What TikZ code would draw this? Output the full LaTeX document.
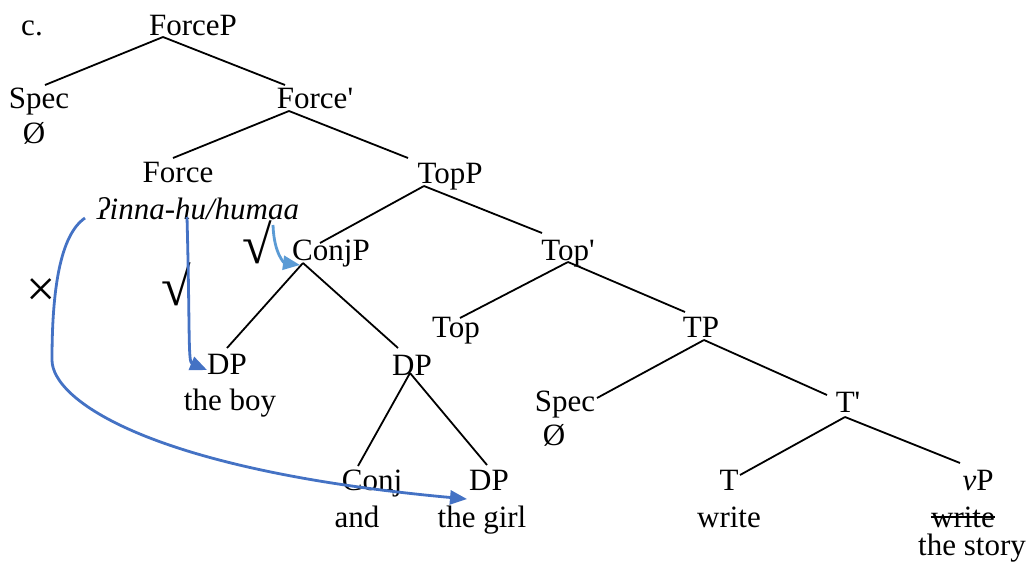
\documentclass[tikz,border=0pt]{standalone}
\usepackage{fontspec}
\setmainfont{Liberation Serif}
\usetikzlibrary{arrows.meta, calc}

\definecolor{movblue}{RGB}{68,114,196}
\definecolor{movlight}{RGB}{91,155,213}

\begin{document}
\begin{tikzpicture}[x=0.5pt, y=-0.5pt,
    every node/.style={anchor=base, inner sep=0pt, font=\fontsize{15.5}{18}\selectfont},
    branch/.style={line width=0.9pt},
    judge/.style={anchor=center, font=\fontsize{#1}{#1}\selectfont},
    move/.style={line width=1.4pt, movblue, -{Triangle[length=8.5pt, width=7pt]}}]
    \useasboundingbox (0,0) rectangle (1031,568);
    % Labels of the tree
    \node (c) at (32,35) {c.};
    \node (forcep) at (193,35) {ForceP};
    \node (spec1) at (39,108) {Spec};
    \node (empty1) at (34,143) {Ø};
    \node (forcebar) at (315,108) {Force\textquotesingle};
    \node (force) at (178,182) {Force};
    \node (comp) at (198,219) {\textit{ʔinna-hu/humaa}};
    \node (topp) at (450,183) {TopP};
    \node (conjp) at (331,260) {ConjP};
    \node (topbar) at (568,260) {Top\textquotesingle};
    \node (top) at (456,337) {Top};
    \node (tp) at (701,337) {TP};
    \node (dp1) at (227,374) {DP};
    \node (boy) at (230,410) {the boy};
    \node (dp2) at (412,375) {DP};
    \node (spec2) at (565,411) {Spec};
    \node (empty2) at (554,445) {Ø};
    \node (tbar) at (848,412) {T\textquotesingle};
    \node (conj) at (372,490) {Conj};
    \node (and) at (357,527) {and};
    \node (dp3) at (489,490) {DP};
    \node (girl) at (482,527) {the girl};
    \node (t) at (729,490) {T};
    \node (write) at (729,527) {write};
    \node (vp) at (978,490) {\textit{v}P};
    \node (copy) at (963,527) {write};
    \node (story) at (972,555) {the story};
    \draw[line width=0.9pt] ($(copy.base west)+(0,-10)$) -- ($(copy.base east)+(0,-10)$);
    % Judgements
    \node[judge=27] (ok1) at (257,242) {√};
    \node[judge=27] (ok2) at (176,284) {√};
    \node[judge=26] (bad) at (41,293) {×};
    % Branches
    \draw[branch] ($(forcep.base)+(-30,2)$) -- ($(spec1.base)+(6,-23)$);
    \draw[branch] ($(forcep.base)+(-30,2)$) -- ($(forcebar.base)+(-30,-23)$);
    \draw[branch] ($(forcebar.base)+(-26,3)$) -- ($(force.base)+(-5,-24)$);
    \draw[branch] ($(forcebar.base)+(-26,3)$) -- ($(topp.base)+(-42,-25)$);
    \draw[branch] ($(topp.base)+(-26,3)$) -- ($(conjp.base)+(-11,-17)$);
    \draw[branch] ($(topp.base)+(-26,3)$) -- ($(topbar.base)+(-26,-27)$);
    \draw[branch] ($(conjp.base)+(-28,3)$) -- ($(dp1.base)+(0,-26)$);
    \draw[branch] ($(conjp.base)+(-28,3)$) -- ($(dp2.base)+(-14,-27)$);
    \draw[branch] ($(topbar.base)+(0,2)$) -- ($(top.base)+(4,-19)$);
    \draw[branch] ($(topbar.base)+(0,2)$) -- ($(tp.base)+(-16,-25)$);
    \draw[branch] ($(tp.base)+(3,3)$) -- ($(spec2.base)+(32,-13)$);
    \draw[branch] ($(tp.base)+(3,3)$) -- ($(tbar.base)+(-21,-17)$);
    \draw[branch] ($(tbar.base)+(-3,5)$) -- ($(t.base)+(11,-15)$);
    \draw[branch] ($(tbar.base)+(-3,5)$) -- ($(vp.base)+(-18,-27)$);
    \draw[branch] ($(dp2.base)+(-2,-2)$) -- ($(conj.base)+(-14,-24)$);
    \draw[branch] ($(dp2.base)+(-2,-2)$) -- ($(dp3.base)+(-2,-25)$);
    % Movement arrows
    \draw[move] ($(comp.base)+(-113,-1)$) .. controls (60,235) and (52,290) .. (52,360)
        .. controls (52,400) and (150,470) .. ($(dp3.base)+(-22,9)$);
    \draw[move] ($(comp.base)+(-11,-2)$) .. controls (190,330) and (188,362) .. ($(dp1.base)+(-20,-4)$);
    \draw[move, movlight] ($(comp.base)+(75,6)$) .. controls (274,255) and (285,263) .. ($(conjp.base)+(-31,5)$);
\end{tikzpicture}
\end{document}
